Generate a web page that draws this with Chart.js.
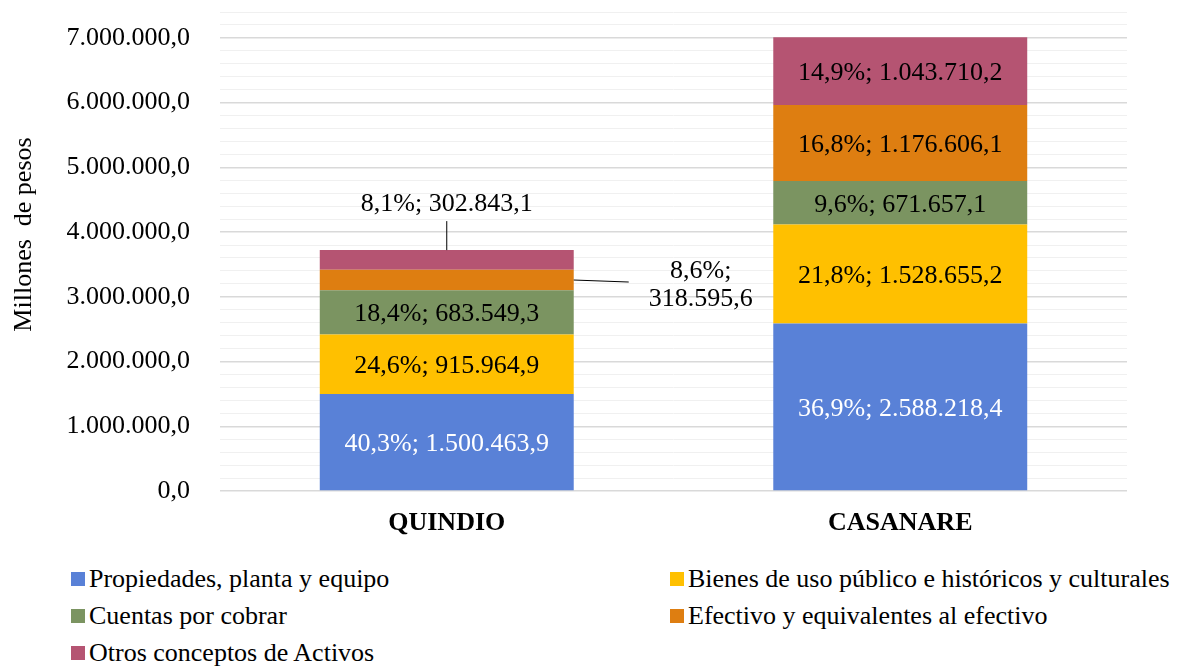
<!DOCTYPE html>
<html>
<head>
<meta charset="utf-8">
<script src="https://cdn.jsdelivr.net/npm/chart.js@4.4.1/dist/chart.umd.min.js"></script>
<style>
  body { margin: 0; background: #fff; }
  #wrap { position: relative; width: 1183px; height: 666px; font-family: "Liberation Serif", "Times New Roman", serif; }
  #legend { position: absolute; left: 71px; top: 561px; display: grid; grid-template-columns: 599px 512px; grid-auto-rows: 36.7px; font-size: 26px; color: #000; }
  .item { display: flex; align-items: center; white-space: nowrap; }
  .box { display: inline-block; width: 14px; height: 14px; margin-right: 4px; flex: none; }
</style>
</head>
<body>
<div id="wrap">
  <canvas id="myChart" width="1183" height="545"></canvas>
  <div id="legend"></div>
</div>
<script>
// categories
var departamentos = ['QUINDIO', 'CASANARE'];

// series values (millones de pesos)
var propiedades = [1500463.9, 2588218.4];
var bienesUso = [915964.9, 1528655.2];
var cuentasCobrar = [683549.3, 671657.1];
var efectivo = [318595.6, 1176606.1];
var otrosActivos = [302843.1, 1043710.2];

var seriesNames = [
  'Propiedades, planta y equipo',
  'Bienes de uso público e históricos y culturales',
  'Cuentas por cobrar',
  'Efectivo y equivalentes al efectivo',
  'Otros conceptos de Activos'
];
var seriesColors = ['#5981d7', '#ffc000', '#7b9461', '#de7e11', '#b55472'];
var labelColors = ['#ffffff', '#000000', '#000000', '#000000', '#000000'];

var FONT = '"Liberation Serif", "Times New Roman", serif';

function fmt(v) {
  var parts = v.toFixed(1).split('.');
  return parts[0].replace(/\B(?=(\d{3})+(?!\d))/g, '.') + ',' + parts[1];
}

var canvas = document.getElementById('myChart');

// labels "pct; valor" on every segment, two Quindio ones pulled out with a leader line
var barLabelsPlugin = {
  id: 'barLabels',
  afterDatasetsDraw: function(chart) {
    var ctx = chart.ctx;
    var datasets = chart.data.datasets;
    var totals = departamentos.map(function(_, i) {
      return datasets.reduce(function(s, ds) { return s + ds.data[i]; }, 0);
    });
    ctx.save();
    ctx.font = '26px ' + FONT;
    ctx.textAlign = 'center';
    ctx.textBaseline = 'middle';
    ctx.strokeStyle = '#000';
    ctx.lineWidth = 1;
    datasets.forEach(function(ds, di) {
      var meta = chart.getDatasetMeta(di);
      meta.data.forEach(function(bar, i) {
        var p = bar.getProps(['x', 'y', 'base', 'width'], true);
        var pct = (ds.data[i] / totals[i] * 100).toFixed(1).replace('.', ',') + '%;';
        var val = fmt(ds.data[i]);
        var mid = (p.y + p.base) / 2;
        if (i === 0 && di === 4) {
          ctx.beginPath();
          ctx.moveTo(p.x, p.y);
          ctx.lineTo(p.x, p.y - 29);
          ctx.stroke();
          ctx.fillStyle = '#000';
          ctx.fillText(pct + ' ' + val, p.x, p.y - 46);
        } else if (i === 0 && di === 3) {
          var right = p.x + p.width / 2;
          ctx.beginPath();
          ctx.moveTo(right, mid);
          ctx.lineTo(right + 55, mid + 2);
          ctx.stroke();
          ctx.fillStyle = '#000';
          ctx.fillText(pct, right + 127, mid - 9);
          ctx.fillText(val, right + 127, mid + 19);
        } else {
          ctx.fillStyle = labelColors[di];
          ctx.fillText(pct + ' ' + val, p.x, mid + 2);
        }
      });
    });
    // y axis title
    var area = chart.chartArea;
    ctx.translate(24, (area.top + area.bottom) / 2 - 17);
    ctx.rotate(-Math.PI / 2);
    ctx.fillStyle = '#000';
    ctx.fillText('Millones  de pesos', 0, 0);
    ctx.restore();
  }
};

var seriesData = [propiedades, bienesUso, cuentasCobrar, efectivo, otrosActivos];

var myChart = new Chart(canvas, {
  type: 'bar',
  data: {
    labels: departamentos,
    datasets: seriesData.map(function(d, k) {
      return {
        label: seriesNames[k],
        data: d,
        backgroundColor: seriesColors[k],
        borderWidth: 0,
        categoryPercentage: 1,
        barPercentage: 0.56
      };
    })
  },
  options: {
    responsive: false,
    animation: false,
    layout: { padding: { top: 12, right: 56, left: 0, bottom: 0 } },
    plugins: {
      legend: { display: false },
      tooltip: { enabled: false }
    },
    scales: {
      x: {
        stacked: true,
        grid: { display: false, drawTicks: false },
        border: { display: false },
        ticks: { color: '#000', padding: 17, font: { family: FONT, size: 26, weight: 'bold' } },
        afterFit: function(s) { s.height = 54; }
      },
      y: {
        stacked: true,
        min: 0,
        max: 7400000,
        border: { display: false },
        grid: {
          drawTicks: false,
          color: function(c) { return Math.round(c.tick.value) % 1000000 === 0 ? '#d9d9d9' : '#f0f0f0'; },
          lineWidth: function(c) { return Math.round(c.tick.value) % 1000000 === 0 ? 1.5 : 1; }
        },
        ticks: {
          stepSize: 200000,
          autoSkip: false,
          padding: 30,
          color: '#000',
          font: { family: FONT, size: 26 },
          callback: function(v) { return Math.round(v) % 1000000 === 0 ? fmt(v) : ''; }
        },
        afterFit: function(s) { s.width = 220; s.paddingTop = 0; s.paddingBottom = 0; }
      }
    }
  },
  plugins: [barLabelsPlugin]
});

// legend in two columns
var legend = document.getElementById('legend');
seriesNames.forEach(function(name, k) {
  var item = document.createElement('div');
  item.className = 'item';
  var box = document.createElement('span');
  box.className = 'box';
  box.style.background = seriesColors[k];
  item.appendChild(box);
  item.appendChild(document.createTextNode(name));
  legend.appendChild(item);
});
</script>
</body>
</html>
